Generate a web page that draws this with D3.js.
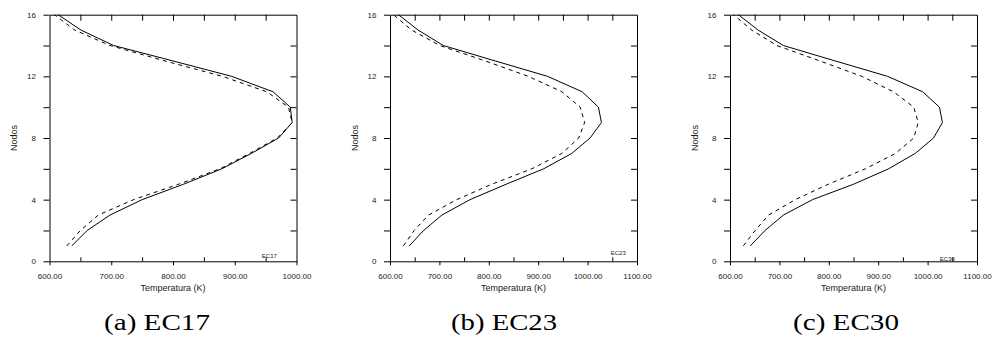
<!DOCTYPE html>
<html>
<head>
<meta charset="utf-8">
<script src="https://cdn.jsdelivr.net/npm/d3@7"></script>
<style>
  body { margin: 0; background: #fff; }
  svg text { font-family: "Liberation Sans", Arial, sans-serif; fill: #1a1a1a; }
</style>
</head>
<body>
<div class="canvas"></div>
<script>
// node numbers (y axis)
const nodos = d3.range(1, 17);

// temperature (K) at nodes 1..16, solid and dashed curves
const ec17Solid  = [636, 661, 698, 750, 817, 879, 927, 971, 993, 990, 962, 895, 800, 704, 651, 614];
const ec17Dashed = [628, 650, 679, 736, 809, 876, 924, 969, 993, 987, 952, 880, 787, 698, 641, 608];
const ec23Solid  = [639, 668, 705, 762, 835, 911, 968, 1005, 1028, 1022, 989, 919, 813, 708, 657, 617];
const ec23Dashed = [627, 649, 678, 735, 806, 887, 948, 982, 994, 985, 948, 880, 793, 701, 644, 607];
const ec30Solid  = [641, 671, 708, 767, 850, 921, 975, 1012, 1030, 1024, 990, 919, 813, 708, 657, 617];
const ec30Dashed = [627, 651, 678, 732, 799, 874, 935, 972, 981, 972, 931, 867, 782, 695, 644, 607];

const captions = ['(a) EC17', '(b) EC23', '(c) EC30'];
const tags = ['EC17', 'EC23', 'EC30'];

const width = 993, height = 345;
const plotTop = 14.7, plotBottom = 261.3, plotWidth = 247;

const panels = [
  { left: 49.5, xMax: 1000, solid: ec17Solid, dashed: ec17Dashed, tagAt: [956, 0.34], captionX: 157 },
  { left: 390, xMax: 1100, solid: ec23Solid, dashed: ec23Dashed, tagAt: [1062, 0.56], captionX: 504 },
  { left: 730, xMax: 1100, solid: ec30Solid, dashed: ec30Dashed, tagAt: [1040, 0.14], captionX: 846 }
];

const svg = d3.select('.canvas')
    .append('svg')
    .attr('width', width)
    .attr('height', height);

panels.forEach((p, k) => {
    const x = d3.scaleLinear().domain([600, p.xMax]).range([p.left, p.left + plotWidth]);
    const y = d3.scaleLinear().domain([0, 16]).range([plotBottom, plotTop]);
    const g = svg.append('g');

    const major = d3.range(600, p.xMax + 1, 100);
    const minor = d3.range(650, p.xMax, 100);
    const every50 = d3.range(650, p.xMax, 50);

    const style = sel => sel
        .attr('font-size', 8)
        .attr('font-family', '"Liberation Sans", Arial, sans-serif')
        .call(s => s.selectAll('line, path').attr('stroke', '#000'))
        .call(s => s.selectAll('text').attr('fill', '#1a1a1a'));

    // bottom axis, labelled ticks outside
    g.append('g')
        .attr('transform', `translate(0,${plotBottom})`)
        .call(d3.axisBottom(x).tickValues(major).tickSizeInner(4).tickSizeOuter(0)
            .tickPadding(8.5).tickFormat(d3.format('.2f')))
        .call(style);

    // bottom minor ticks, inside
    g.append('g')
        .attr('transform', `translate(0,${plotBottom})`)
        .call(d3.axisBottom(x).tickValues(minor).tickSize(-4).tickFormat(''))
        .call(a => a.select('.domain').remove())
        .call(style);

    // top frame
    g.append('g')
        .attr('transform', `translate(0,${plotTop})`)
        .call(d3.axisTop(x).tickValues(every50).tickSizeInner(-6).tickSizeOuter(0).tickFormat(''))
        .call(style);

    // left axis
    g.append('g')
        .attr('transform', `translate(${p.left},0)`)
        .call(d3.axisLeft(y).tickValues(d3.range(0, 17, 2)).tickSizeInner(6).tickSizeOuter(0)
            .tickPadding(7.5).tickFormat(d => d % 4 === 0 ? d : ''))
        .call(style);

    // right frame
    g.append('g')
        .attr('transform', `translate(${p.left + plotWidth},0)`)
        .call(d3.axisRight(y).tickValues(d3.range(2, 16, 2)).tickSizeInner(-6).tickSizeOuter(0).tickFormat(''))
        .call(style);

    // curves
    const line = d3.line()
        .x(d => x(d.t))
        .y(d => y(d.n));

    g.append('path')
        .datum(nodos.map((n, i) => ({ n, t: p.solid[i] })))
        .attr('fill', 'none')
        .attr('stroke', '#000')
        .attr('stroke-width', 1)
        .attr('d', line);

    g.append('path')
        .datum(nodos.map((n, i) => ({ n, t: p.dashed[i] })))
        .attr('fill', 'none')
        .attr('stroke', '#000')
        .attr('stroke-width', 1)
        .attr('stroke-dasharray', '4,4')
        .attr('d', line);

    // small tag inside plot
    g.append('text')
        .attr('x', x(p.tagAt[0]))
        .attr('y', y(p.tagAt[1]))
        .attr('text-anchor', 'middle')
        .attr('dy', '0.35em')
        .attr('font-size', 6)
        .text(tags[k]);

    // axis titles
    g.append('text')
        .attr('x', p.left + plotWidth / 2)
        .attr('y', 291)
        .attr('text-anchor', 'middle')
        .attr('font-size', 9)
        .text('Temperatura (K)');

    g.append('text')
        .attr('transform', `translate(${p.left - 32.5},${(plotTop + plotBottom) / 2}) rotate(-90)`)
        .attr('text-anchor', 'middle')
        .attr('font-size', 9)
        .text('Nodos');

    // subfigure caption
    svg.append('text')
        .attr('x', p.captionX)
        .attr('y', 330)
        .attr('text-anchor', 'middle')
        .style('font-family', '"Liberation Serif", "Times New Roman", serif')
        .style('fill', '#000')
        .attr('font-size', 24)
        .attr('textLength', 106)
        .attr('lengthAdjust', 'spacingAndGlyphs')
        .text(captions[k]);
});
</script>
</body>
</html>
